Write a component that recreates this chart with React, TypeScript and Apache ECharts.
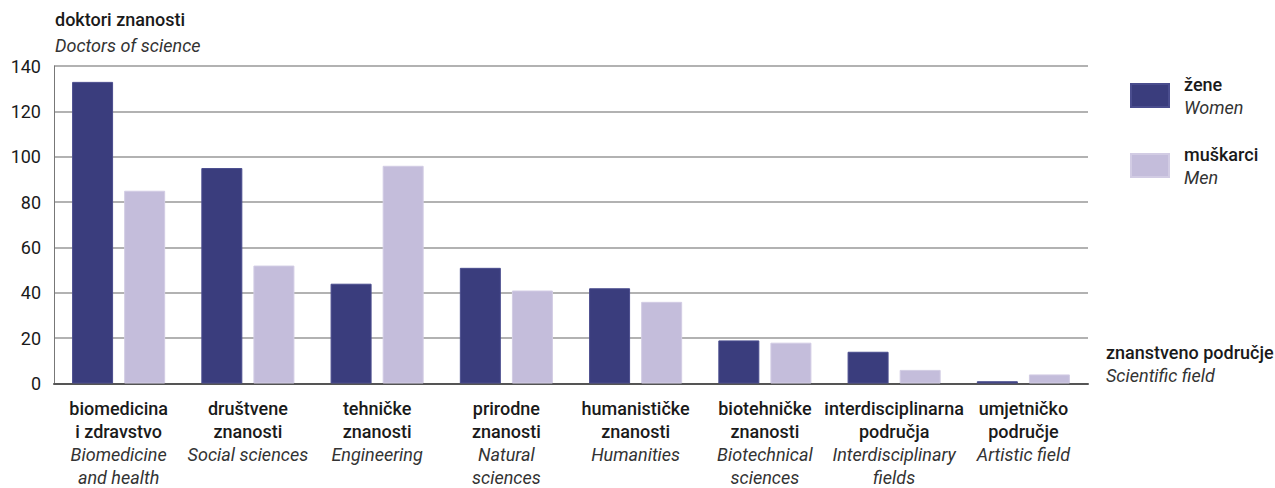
import React, { useEffect, useRef } from "react";
import * as echarts from "echarts";

const categoriesHr = ["biomedicina\ni zdravstvo", "društvene\nznanosti", "tehničke\nznanosti", "prirodne\nznanosti", "humanističke\nznanosti", "biotehničke\nznanosti", "interdisciplinarna\npodručja", "umjetničko\npodručje"];
const categoriesEn = ["Biomedicine\nand health", "Social sciences", "Engineering", "Natural\nsciences", "Humanities", "Biotechnical\nsciences", "Interdisciplinary\nfields", "Artistic field"];
const women = [133, 95, 44, 51, 42, 19, 14, 1];
const men = [85, 52, 96, 41, 36, 18, 6, 4];
const yTicks = { min: 0, max: 140, interval: 20 };

const FONT = "Roboto, 'Noto Sans', sans-serif";
const DARK = "#3a3d7d";
const LIGHT = "#c4bddb";

export default function App() {
  const ref = useRef<HTMLDivElement>(null);
  useEffect(() => {
    document.body.style.margin = "0";
    const chart = echarts.init(ref.current!, null, { renderer: "svg" });
    const labels = categoriesHr.map((hr, i) => {
      const b = hr.split("\n").map((s) => `{b|${s}}`).join("\n");
      const it = categoriesEn[i].split("\n").map((s) => `{i|${s}}`).join("\n");
      return b + "\n" + it;
    });
    chart.setOption({
      animation: false,
      textStyle: { fontFamily: FONT },
      grid: { left: 54, right: 187, top: 66, bottom: 104.5 },
      xAxis: {
        type: "category",
        data: labels,
        axisLine: { lineStyle: { color: "#555", width: 2 } },
        axisTick: { show: false },
        axisLabel: {
          interval: 0,
          margin: 13,
          formatter: (v: string) => v,
          rich: {
            b: { fontFamily: FONT, fontSize: 18, fontWeight: 500, color: "#1a1a1a", lineHeight: 23 },
            i: { fontFamily: FONT, fontSize: 18, fontStyle: "italic", color: "#333", lineHeight: 23 },
          },
        },
      },
      yAxis: {
        type: "value",
        min: yTicks.min,
        max: yTicks.max,
        interval: yTicks.interval,
        axisLine: { show: true, lineStyle: { color: "#777", width: 1 } },
        axisTick: { show: false },
        axisLabel: { fontFamily: FONT, fontSize: 18, color: "#1a1a1a", margin: 13 },
        splitLine: { lineStyle: { color: "#999", width: 1.5 } },
      },
      legend: {
        orient: "vertical",
        left: 1130,
        top: 75,
        padding: 0,
        itemWidth: 38,
        itemHeight: 23,
        itemGap: 29,
        icon: "rect",
        data: ["žene", "muškarci"],
        formatter: (name: string) =>
          name === "žene" ? "{b|žene}\n{i|Women}" : "{b|muškarci}\n{i|Men}",
        textStyle: {
          padding: [0, 0, 0, 10],
          rich: {
            b: { fontFamily: FONT, fontSize: 18, fontWeight: 500, color: "#1a1a1a", lineHeight: 23 },
            i: { fontFamily: FONT, fontSize: 18, fontStyle: "italic", color: "#333", lineHeight: 23 },
          },
        },
      },
      graphic: [
        { type: "text", left: 55, top: 10, style: { text: "doktori znanosti", font: `500 18px ${FONT}`, fill: "#1a1a1a" } },
        { type: "text", left: 55, top: 36, style: { text: "Doctors of science", font: `italic 18px ${FONT}`, fill: "#333" } },
        { type: "text", left: 1106, top: 343, style: { text: "znanstveno područje", font: `500 18px ${FONT}`, fill: "#1a1a1a" } },
        { type: "text", left: 1106, top: 366, style: { text: "Scientific field", font: `italic 18px ${FONT}`, fill: "#333" } },
      ],
      series: [
        {
          name: "žene",
          type: "bar",
          data: women,
          barWidth: 41,
          barGap: "27%",
          itemStyle: { color: DARK, borderColor: "#4a4d8e", borderWidth: 1 },
        },
        {
          name: "muškarci",
          type: "bar",
          data: men,
          barWidth: 41,
          barGap: "27%",
          itemStyle: { color: LIGHT, borderColor: "#d2cce4", borderWidth: 1 },
        },
      ],
    });
    return () => chart.dispose();
  }, []);
  return <div ref={ref} style={{ width: 1275, height: 488 }} />;
}
